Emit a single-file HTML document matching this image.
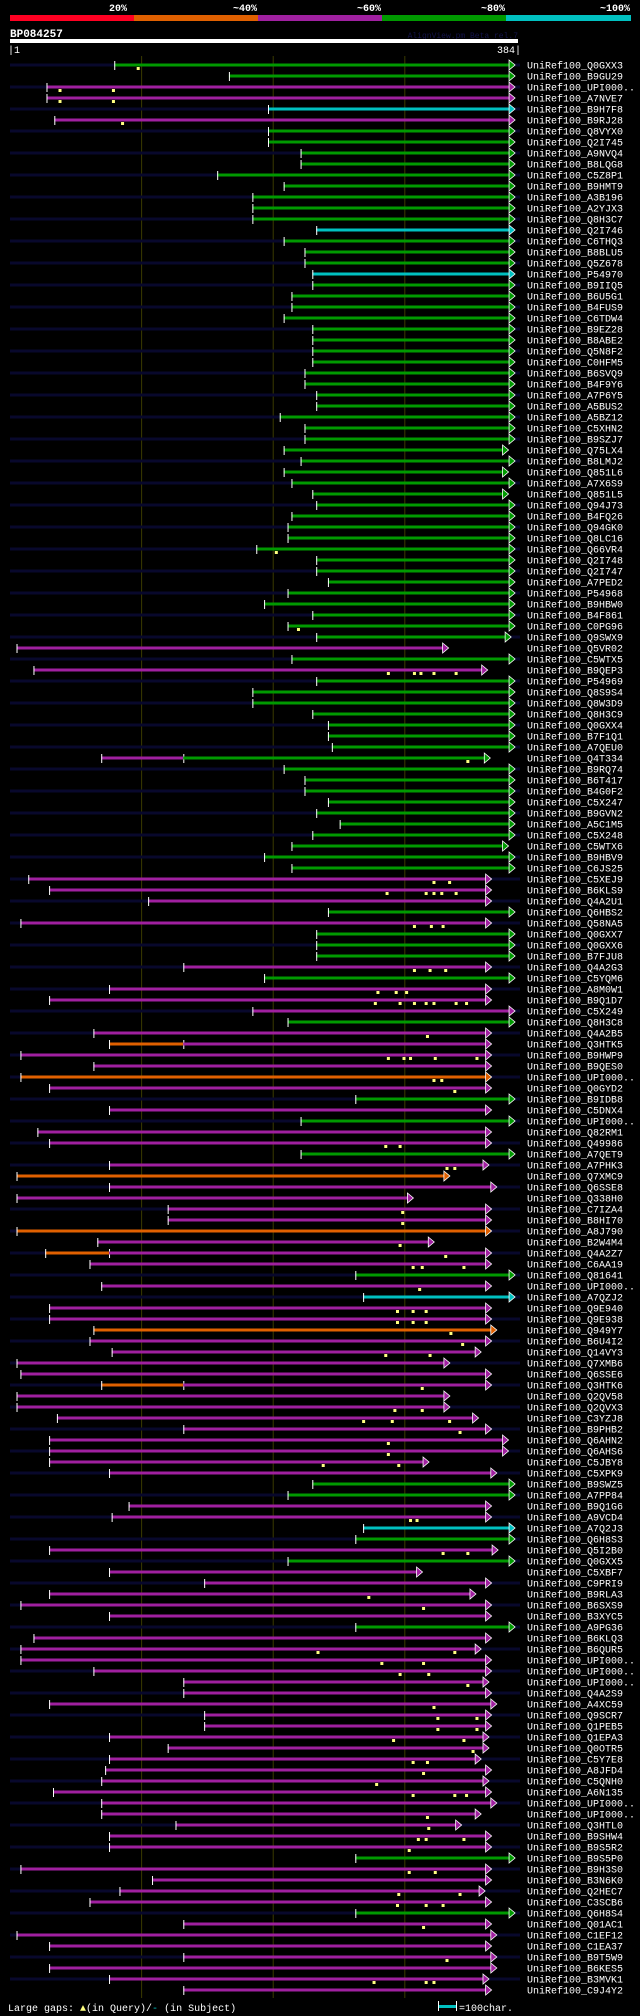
<!DOCTYPE html>
<html><head><meta charset="utf-8"><style>
html,body{margin:0;padding:0;background:#000;}
svg{display:block;}
text{font-family:"Liberation Mono",monospace;}
</style></head><body>
<svg id="chart" width="640" height="2016" viewBox="0 0 640 2016" xmlns="http://www.w3.org/2000/svg">
<rect x="0" y="0" width="640" height="2016" fill="#000"/>
<g>
<rect x="10" y="15" width="124" height="6" fill="#ff0022"/>
<rect x="134" y="15" width="124" height="6" fill="#e06000"/>
<rect x="258" y="15" width="124" height="6" fill="#a020a0"/>
<rect x="382" y="15" width="124" height="6" fill="#009900"/>
<rect x="506" y="15" width="125" height="6" fill="#00c0c0"/>
<text x="127" y="11" fill="#fff" font-size="10" font-weight="bold" text-anchor="end">20%</text>
<text x="257" y="11" fill="#fff" font-size="10" font-weight="bold" text-anchor="end">~40%</text>
<text x="381" y="11" fill="#fff" font-size="10" font-weight="bold" text-anchor="end">~60%</text>
<text x="505" y="11" fill="#fff" font-size="10" font-weight="bold" text-anchor="end">~80%</text>
<text x="630" y="11" fill="#fff" font-size="10" font-weight="bold" text-anchor="end">~100%</text>
</g>
<text x="10" y="37" fill="#fff" font-size="11" font-weight="bold">BP084257</text>
<text x="518" y="38" fill="#14144a" font-size="8" text-anchor="end">AlignView.pm Beta rel.7</text>
<rect x="10" y="39" width="508" height="4" fill="#fff"/>
<text x="8" y="53" fill="#fff" font-size="10">|1</text>
<text x="521" y="53" fill="#fff" font-size="10" text-anchor="end">384|</text>
<g id="grid"></g>
<g id="rows"></g>
<g>
<text x="8" y="2011" fill="#fff" font-size="10" xml:space="preserve">Large gaps: <tspan fill="#ffff80">▲</tspan>(in Query)/<tspan fill="#00c0c0">-</tspan> (in Subject)</text>
<rect x="439" y="2005" width="17" height="3" fill="#00c0c0"/>
<rect x="438" y="2001" width="1" height="10" fill="#fff"/>
<rect x="456" y="2001" width="1" height="10" fill="#fff"/>
<text x="459" y="2011" fill="#fff" font-size="10">=100char.</text>
</g>
</svg>
<script>
const names = ["Q0GXX3","B9GU29","UPI000..","A7NVE7","B9H7F8","B9RJ28","Q8VYX0","Q2I745","A9NVQ4","B8LQG8","C5Z8P1","B9HMT9","A3B196","A2YJX3","Q8H3C7","Q2I746","C6THQ3","B8BLU5","Q5Z678","P54970","B9IIQ5","B6U5G1","B4FUS9","C6TDW4","B9EZ28","B8ABE2","Q5N8F2","C0HFM5","B6SVQ9","B4F9Y6","A7P6Y5","A5BUS2","A5BZ12","C5XHN2","B9SZJ7","Q75LX4","B8LMJ2","Q851L6","A7X6S9","Q851L5","Q94J73","B4FQ26","Q94GK0","Q8LC16","Q66VR4","Q2I748","Q2I747","A7PED2","P54968","B9HBW0","B4F861","C0PG96","Q9SWX9","Q5VR02","C5WTX5","B9QEP3","P54969","Q8S9S4","Q8W3D9","Q8H3C9","Q0GXX4","B7F1Q1","A7QEU0","Q4T334","B9RQ74","B6T417","B4G0F2","C5X247","B9GVN2","A5C1M5","C5X248","C5WTX6","B9HBV9","C6JS25","C5XEJ9","B6KLS9","Q4A2U1","Q6HBS2","Q58NA5","Q0GXX7","Q0GXX6","B7FJU8","Q4A2G3","C5YQM6","A8M0W1","B9Q1D7","C5X249","Q8H3C8","Q4A2B5","Q3HTK5","B9HWP9","B9QES0","UPI000..","Q0GYD2","B9IDB8","C5DNX4","UPI000..","Q82RM1","Q49986","A7QET9","A7PHK3","Q7XMC9","Q6SSE8","Q338H0","C7IZA4","B8HI70","A8J790","B2W4M4","Q4A2Z7","C6AA19","Q81641","UPI000..","A7QZJ2","Q9E940","Q9E938","Q949Y7","B6U4I2","Q14VY3","Q7XMB6","Q6SSE6","Q3HTK6","Q2QV58","Q2QVX3","C3YZJ8","B9PHB2","Q6AHN2","Q6AHS6","C5JBY8","C5XPK9","B9SWZ5","A7PP84","B9Q1G6","A9VCD4","A7Q2J3","Q6H8S3","Q5I2B0","Q0GXX5","C5XBF7","C9PRI9","B9RLA3","B6SXS9","B3XYC5","A9PG36","B6KLQ3","B6QUR5","UPI000..","UPI000..","UPI000..","Q4A2S9","A4XC59","Q9SCR7","Q1PEB5","Q1EPA3","Q0OTR5","C5Y7E8","A8JFD4","C5QNH0","A6N135","UPI000..","UPI000..","Q3HTL0","B9SHW4","B9S5R2","B9S5P0","B9H3S0","B3N6K0","Q2HEC7","C3SCB6","Q6H8S4","Q01AC1","C1EF12","C1EA37","B9T5W9","B6KES5","B3MVK1","C9J4Y2"];
const starts = [81,169,29,29,199,35,199,199,224,224,160,211,187,187,187,236,211,227,227,233,233,217,217,211,233,233,233,233,227,227,236,236,208,227,227,211,224,211,217,233,236,217,214,214,190,236,236,245,214,196,233,214,236,6,217,19,236,187,187,233,245,245,248,71,211,227,227,245,236,254,233,217,196,217,15,31,107,245,9,236,236,236,134,196,77,31,187,214,65,77,9,65,9,31,266,77,224,22,31,224,77,6,77,6,122,122,6,68,28,62,266,71,272,31,31,65,62,79,6,9,71,6,6,37,134,31,31,31,77,233,214,92,79,272,266,31,214,77,150,31,9,77,266,19,9,9,65,134,134,31,150,150,77,122,77,74,71,34,71,71,128,77,77,266,9,110,85,62,266,134,6,31,134,31,77,134];
const ends = [384,384,384,384,384,384,384,384,384,384,384,384,384,384,384,384,384,384,384,384,384,384,384,384,384,384,384,384,384,384,384,384,384,384,384,379,384,379,384,379,384,384,384,384,384,384,384,384,384,384,384,384,381,333,384,363,384,384,384,384,384,384,384,365,384,384,384,384,384,384,384,379,384,384,366,366,366,384,366,384,384,384,366,384,366,366,384,384,366,366,366,366,366,366,384,366,384,366,366,384,364,334,370,306,366,366,366,322,366,366,384,366,384,366,366,370,366,358,334,366,366,334,334,356,366,379,379,318,370,384,384,366,366,384,384,371,384,313,366,354,366,366,384,366,358,366,366,364,366,370,366,366,364,364,358,366,364,366,370,358,343,366,366,384,366,366,361,366,384,366,370,366,370,370,364,366];
const colorGroups = [
  "ggmmcmgggggggggcgggc",
  "gggggggggggggggggggg",
  "gggggggggggggmgmgggg",
  "ggggggggggggggmmmgmg",
  "ggmgmmmgmmmmomgmgmmg",
  "mommmmommmgmcmmommmm",
  "mmmmmmmmmggmmcgmgmmm",
  "mmgmmmmmmmmmmmmmmmmm",
  "mmmgmmmmgmmmmmmm"
];
const colors = colorGroups.join('');
const preStarts = {63:[71,134,'m'],89:[77,134,'o'],108:[28,77,'o'],120:[71,134,'o']};
const gapMarkers = {0:[99],2:[39,80],3:[39,80],5:[87],44:[205],51:[222],55:[291,311,316,326,343],63:[352],74:[326,338],75:[290,320,326,332,343],78:[311,324,333],82:[311,323,335],84:[283,297,305],85:[281,300,311,320,326,343,351],88:[321],90:[291,303,308,327,359],92:[326,332],93:[342],98:[289,300],100:[336,342],104:[302],105:[302],107:[300],108:[335],109:[310,317,349],111:[315],113:[298,310,320],114:[298,310,320],115:[339],116:[348],117:[289,323],120:[317],122:[296,317],123:[272,294,338],124:[346],125:[291],126:[291],127:[241,299],132:[308,313],135:[333,352],139:[276],140:[318],144:[237,342],145:[286,318],146:[300,322],147:[352],149:[326],150:[329,359],151:[329,359],152:[295,349],153:[356],154:[310,321],155:[318],156:[282],157:[310,342,351],159:[321],160:[322],161:[314,320,349],162:[307],164:[307,327],166:[299,346],167:[298,320,333],169:[318],172:[336],174:[280,320,326]};
const gridResidues = [102,203,304];

const COL = {g:'#009900', m:'#a020a0', c:'#00c0c0', o:'#e06000'};
const NS = 'http://www.w3.org/2000/svg';
function xs(r){ return 10 + (r-1)*1.303; }
function rowY(i){ return 65 + 11*i; }
function mk(tag, attrs, parent){ const e=document.createElementNS(NS,tag); for(const k in attrs) e.setAttribute(k, attrs[k]); parent.appendChild(e); return e; }

const grid = document.getElementById('grid');
gridResidues.forEach(function(r){
  const l = mk('line',{x1:xs(r),x2:xs(r),y1:56,y2:1998,stroke:'#3a3a00','stroke-width':1},grid);
  
  
});

const rowsG = document.getElementById('rows');
names.forEach(function(nm, i){
  const y = rowY(i);
  const g = mk('g',{},rowsG);
  
  
  if(i % 2 === 0){
    const s = mk('rect',{x:10,y:y-1.5,width:510,height:3,fill:'#08082c'},g);
    
    
  }
  const col = COL[colors[i]] || COL.m;
  let barStart = starts[i];
  if(preStarts[i]){
    const p = preStarts[i];
    const pr = mk('rect',{x:xs(p[0]),y:y-1.5,width:xs(p[1])-xs(p[0]),height:3,fill:COL[p[2]]},g);
    
    
    barStart = p[1];
    const t2 = mk('rect',{x:xs(p[1]),y:y-4,width:1,height:9,fill:'#fff'},g);
    
    
  }
  const bar = mk('rect',{x:xs(barStart),y:y-1.5,width:Math.max(0,xs(ends[i])-xs(barStart)),height:3,fill:col},g);
  
  
  const tick = mk('rect',{x:xs(starts[i]),y:y-4,width:1,height:9,fill:'#fff'},g);
  
  
  const b = xs(ends[i]);
  const arr = mk('polygon',{points:(b)+','+(y-5)+' '+(b+6)+','+y+' '+b+','+(y+5),fill:col,stroke:'#fff','stroke-width':0.8},g);
  
  
  (gapMarkers[i]||[]).forEach(function(r){
    const m = mk('rect',{x:xs(r)-1,y:y+2,width:3,height:3,fill:'#ffff80'},g);
    
    
  });
  const t = mk('text',{x:527,y:y+3.5,fill:'#fff','font-size':10},g);
  t.textContent = 'UniRef100_' + nm;
  
  
});
</script>
</body></html>
